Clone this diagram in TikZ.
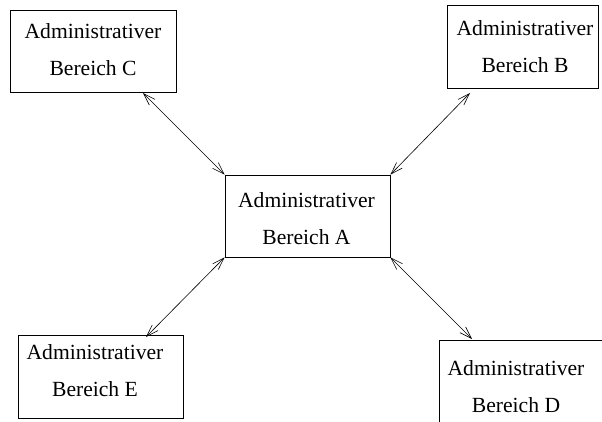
\documentclass[tikz,border=0pt]{standalone}
\usepackage{fontspec}
\setmainfont{Liberation Serif}
\usetikzlibrary{arrows.meta}
\begin{document}
\begin{tikzpicture}[x=1pt,y=-1pt,
  box/.style={draw,line width=0.8pt,rectangle,inner sep=0pt},
  lbl/.style={anchor=base,inner sep=0pt,font=\fontsize{21.6}{37}\selectfont},
  link/.style={line width=0.6pt,{Straight Barb[length=12pt,width=8pt]}-{Straight Barb[length=12pt,width=8pt]}}]
\useasboundingbox (0,0) rectangle (602,421);
% boxes
\node[box,minimum width=166pt,minimum height=82pt] (C) at (93,51) {};
\node[box,minimum width=151pt,minimum height=83pt] (B) at (522.5,46.5) {};
\node[box,minimum width=165pt,minimum height=82pt] (A) at (307.5,216) {};
\node[box,minimum width=165pt,minimum height=83pt] (E) at (100.5,376.5) {};
\node[box,minimum width=172pt,minimum height=92pt] (D) at (525,386) {};
% labels
\node[lbl] (Ct) at (93,38) {\begin{tabular}[t]{@{}c@{}}Administrativer\\Bereich C\end{tabular}};
\node[lbl] (Bt) at (525,35) {\begin{tabular}[t]{@{}c@{}}Administrativer\\Bereich B\end{tabular}};
\node[lbl] (At) at (306.5,207) {\begin{tabular}[t]{@{}c@{}}Administrativer\\Bereich A\end{tabular}};
\node[lbl] (Et) at (95,359) {\begin{tabular}[t]{@{}c@{}}Administrativer\\Bereich E\end{tabular}};
\node[lbl] (Dt) at (516,375) {\begin{tabular}[t]{@{}c@{}}Administrativer\\Bereich D\end{tabular}};
% free ends of the links near the outer boxes
\coordinate (c1) at (143,93);
\coordinate (b1) at (470,93);
\coordinate (e1) at (146,337);
\coordinate (d1) at (472,339);
% links
\draw[link] (c1) -- (A.north west);
\draw[link] (b1) -- (A.north east);
\draw[link] (e1) -- (A.south west);
\draw[link] (d1) -- (A.south east);
\end{tikzpicture}
\end{document}
